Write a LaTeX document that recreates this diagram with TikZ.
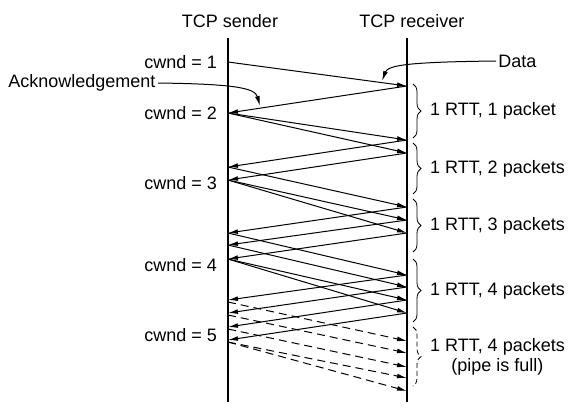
\documentclass[tikz,border=0pt]{standalone}
\usepackage{fontspec}
\setmainfont{Liberation Sans}
\usetikzlibrary{arrows.meta,decorations.pathreplacing}

\begin{document}
\begin{tikzpicture}[x=.5pt,y=-.5pt,>={Latex[length=5pt,width=2.4pt]},
 font=\fontsize{9}{10}\selectfont,
 msg/.style={->,line width=.5pt},
 brc/.style={decorate,decoration={brace,amplitude=4pt},line width=.4pt},
 rtt/.style={midway,right=5pt,align=center},
 cw/.style={anchor=east},
 note/.style={inner sep=1pt}]
 \useasboundingbox (0,0) rectangle (582,414);
 \node (snd) at (230,21) {TCP sender};
 \node (rcv) at (412,21) {TCP receiver};
 \coordinate (st) at (228,38);\coordinate (sb) at (228,402);
 \coordinate (rt) at (407,38);\coordinate (rb) at (407,402);
 \draw[line width=.55pt] (st)--(sb);\draw[line width=.55pt] (rt)--(rb);
 \foreach \y in {62,113,167,180,233,245,259,300,302,313,315,327,329,340,342}
  \coordinate (s\y) at (228,\y);
 \foreach \y in {86,140,153,207,220,233,275,287,300,313,341,353,367,378,391}
  \coordinate (r\y) at (407,\y);
 \node[cw] (c1) at (224,62) {cwnd = 1};
 \node[cw] (c2) at (224,113) {cwnd = 2};
 \node[cw] (c3) at (224,183) {cwnd = 3};
 \node[cw] (c4) at (224,265) {cwnd = 4};
 \node[cw] (c5) at (224,335) {cwnd = 5};
 \foreach \a/\b in {62/86,113/140,113/153,167/207,180/220,180/233,233/275,245/287,259/300,259/313}
  \draw[msg] (s\a)--(r\b);
 \foreach \a/\b in {86/113,140/167,153/180,207/233,220/245,233/259,275/300,287/313,300/327,313/340}
  \draw[msg] (r\a)--(s\b);
 \foreach \a/\b in {302/341,315/353,329/367,342/378,342/391}
  \draw[msg,dashed,dash pattern=on 4pt off 2.5pt] (s\a)--(r\b);
 \node[note,anchor=west] (dat) at (496,61) {Data};
 \coordinate (dtip) at (382,81);
 \draw[msg] (dat.west) .. controls (410,62) and (388,65) .. (dtip);
 \node[note,anchor=west] (ack) at (6,83) {Acknowledgement};
 \coordinate (atip) at (260,106);
 \draw[msg] (ack.east) .. controls (235,84) and (255,88) .. (atip);
 \draw[brc] (413,84)--(413,138) node[rtt] (b1) {1 RTT, 1 packet};
 \draw[brc] (413,143)--(413,194) node[rtt] (b2) {1 RTT, 2 packets};
 \draw[brc] (413,199)--(413,252) node[rtt] (b3) {1 RTT, 3 packets};
 \draw[brc] (413,259)--(413,322) node[rtt] (b4) {1 RTT, 4 packets};
 \draw[brc,dashed,dash pattern=on 2.5pt off 1.5pt] (413,327)--(413,386) node[rtt] (b5) {1 RTT, 4 packets\\(pipe is full)};
\end{tikzpicture}
\end{document}
